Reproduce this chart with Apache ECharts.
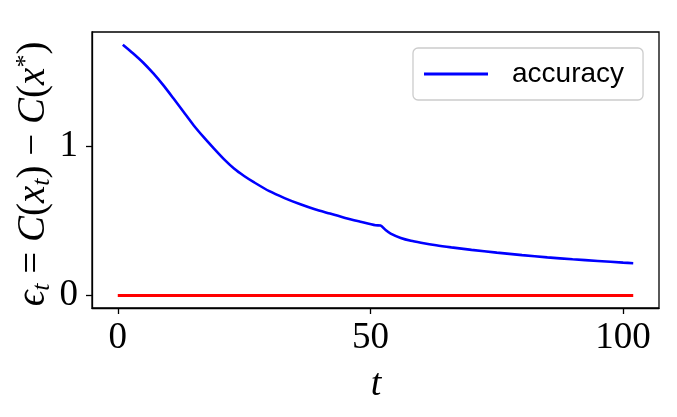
<!DOCTYPE html>
<html><head><meta charset="utf-8">
<script src="https://cdn.jsdelivr.net/npm/echarts@6/dist/echarts.min.js"></script>
<style>html,body{margin:0;padding:0;background:#fff}#c{width:677px;height:417px}</style>
</head><body><div id="c"></div>
<script>
const accT = [1,3,5,7,9,11,13,15,17,19,21,23,25,27,30,33,36,39,42,45,48,51,52,53,54,56,58,60,63,66,70,75,80,85,90,95,100,102];
const accV = [1.679,1.622,1.56,1.488,1.408,1.32,1.23,1.14,1.06,0.985,0.913,0.85,0.80,0.757,0.698,0.652,0.612,0.577,0.548,0.519,0.494,0.470,0.468,0.438,0.414,0.385,0.366,0.353,0.336,0.322,0.305,0.287,0.270,0.255,0.242,0.231,0.220,0.216];
const refT = [0,102];
const refV = [0,0];
const xTicks = [0,50,100];
const yTicks = [0,1];

const chart = echarts.init(document.getElementById('c'));
const serif = '"Liberation Serif","DejaVu Serif",serif';
chart.setOption({
  animation:false,
  backgroundColor:'#fff',
  grid:{left:92,top:32,right:18,bottom:109,show:true,borderColor:'#000',borderWidth:1.3,backgroundColor:'transparent'},
  legend:{
    left:413, top:48,
    padding:[12,19,12,11],
    itemWidth:64, itemHeight:3, itemGap:0,
    icon:'rect',
    backgroundColor:'#fff',
    borderColor:'#cccccc', borderWidth:1.3, borderRadius:5,
    textStyle:{fontFamily:'"Liberation Sans",Arial,sans-serif', fontSize:28, color:'#000', padding:[0,0,0,19]},
    data:['accuracy']
  },
  xAxis:{
    type:'value', min:-5.1, max:107.1,
    axisLine:{show:true,onZero:false,lineStyle:{color:'#000',width:1.3}},
    axisTick:{show:true,length:6,lineStyle:{color:'#000',width:1.3},customValues:xTicks},
    axisLabel:{show:true,customValues:xTicks,fontFamily:serif,fontSize:37,color:'#000',margin:12},
    splitLine:{show:false}
  },
  yAxis:{
    type:'value', min:-0.084, max:1.764,
    axisLine:{show:true,onZero:false,lineStyle:{color:'#000',width:1.3}},
    axisTick:{show:true,length:6,lineStyle:{color:'#000',width:1.3},customValues:yTicks},
    axisLabel:{show:true,customValues:yTicks,fontFamily:serif,fontSize:37,color:'#000',margin:14},
    splitLine:{show:false}
  },
  graphic:[
    {type:'text', x:376, y:385,
      style:{text:'t', font:'italic 38px '+serif, fill:'#000', align:'center', verticalAlign:'middle'}},
    {type:'text', x:34, y:174, rotation:Math.PI/2, originX:0, originY:0,
      style:{
        text:'{i|ϵ}{s|t}{n| = }{i|C}{n|(}{i|x}{s|t}{n|) − }{i|C}{n|(}{i|x}{p|*}{n|)}',
        align:'center', verticalAlign:'middle', fill:'#000',
        rich:{
          i:{fontFamily:serif,fontStyle:'italic',fontSize:39,lineHeight:42,verticalAlign:'middle'},
          n:{fontFamily:serif,fontSize:39,lineHeight:42,verticalAlign:'middle'},
          s:{fontFamily:serif,fontStyle:'italic',fontSize:26,lineHeight:26,verticalAlign:'bottom'},
          p:{fontFamily:serif,fontSize:26,lineHeight:26,verticalAlign:'top'}
        }
      }}
  ],
  series:[
    {name:'accuracy', type:'line', data:accT.map((t,i)=>[t,accV[i]]), showSymbol:false, symbol:'none',
      smooth:0.25,
      lineStyle:{color:'#0000ff',width:2.6}, itemStyle:{color:'#0000ff'}, z:3},
    {name:'ref', type:'line', data:refT.map((t,i)=>[t,refV[i]]), showSymbol:false, symbol:'none',
      lineStyle:{color:'#ff0000',width:3}, itemStyle:{color:'#ff0000'}, z:2}
  ]
});
</script></body></html>
